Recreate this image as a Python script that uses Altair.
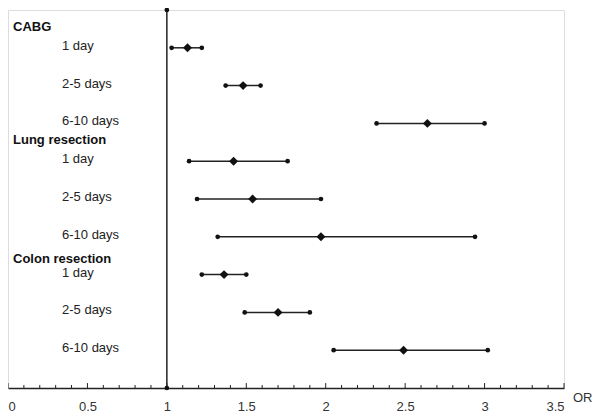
import altair as alt
import pandas as pd

groups = ["CABG", "Lung resection", "Colon resection"]
periods = ["1 day", "2-5 days", "6-10 days"]
# odds ratios and 95% CI, in row order (CABG, Lung, Colon) x (1 day, 2-5, 6-10)
or_est = [1.13, 1.48, 2.64, 1.42, 1.54, 1.97, 1.36, 1.70, 2.49]
ci_lo = [1.03, 1.37, 2.32, 1.14, 1.19, 1.32, 1.22, 1.49, 2.05]
ci_hi = [1.22, 1.59, 3.00, 1.76, 1.97, 2.94, 1.50, 1.90, 3.02]
rows = [0, 1, 2, 3, 4, 5, 6, 7, 8]
header_rows = [-0.55, 2.45, 5.58]
major_ticks = [0, 0.5, 1, 1.5, 2, 2.5, 3, 3.5]
minor_ticks = [0.1, 0.2, 0.3, 0.4, 0.6, 0.7, 0.8, 0.9, 1.1, 1.2, 1.3, 1.4,
               1.6, 1.7, 1.8, 1.9, 2.1, 2.2, 2.3, 2.4, 2.6, 2.7, 2.8, 2.9,
               3.1, 3.2, 3.3, 3.4]
ref_value = 1
ref_ends = [-1, 9]

df = pd.DataFrame({
    "group": [g for g in groups for _ in periods],
    "period": periods * len(groups),
    "est": or_est,
    "lo": ci_lo,
    "hi": ci_hi,
    "row": rows,
})
hdr = pd.DataFrame({"group": groups, "row": header_rows})
ticks_df = pd.DataFrame({
    "v": major_ticks + minor_ticks,
    "len": [0.13] * len(major_ticks) + [0.08] * len(minor_ticks),
})
ticks_df["top"] = 9 - ticks_df["len"]
ref_df = pd.DataFrame({"x": [ref_value] * 2, "row": ref_ends})

xscale = alt.Scale(domain=[0, 3.5], nice=False, zero=False)
yscale = alt.Scale(domain=[-1, 9], reverse=True, nice=False, zero=False)
xaxis = alt.Axis(values=major_ticks, title=None, ticks=False, grid=False,
                 labelExpr="datum.value", labelFontSize=13, labelPadding=12,
                 labelColor="#333", labelFont="Liberation Sans",
                 domainColor="#222", domainWidth=1.5)


def X(f, **kw):
    return alt.X(f, scale=xscale, axis=xaxis, **kw)


def Y(f):
    return alt.Y(f, scale=yscale, axis=None)


base = alt.Chart(df)

vline = alt.Chart(ref_df).mark_rule(color="#222", strokeWidth=1.5).encode(
    x=X("x:Q"), y=Y("min(row):Q"), y2="max(row):Q"
)
vdots = alt.Chart(ref_df).mark_circle(color="#111", size=22, opacity=1).encode(
    x=X("x:Q"), y=Y("row:Q")
)
ci = base.mark_rule(color="#222", strokeWidth=1.5).encode(
    x=X("lo:Q"), x2="hi:Q", y=Y("row:Q")
)
lo_dots = base.mark_circle(color="#111", size=22, opacity=1).encode(
    x=X("lo:Q"), y=Y("row:Q")
)
hi_dots = base.mark_circle(color="#111", size=22, opacity=1).encode(
    x=X("hi:Q"), y=Y("row:Q")
)
est = base.mark_point(shape="diamond", filled=True, color="#111", size=80, opacity=1).encode(
    x=X("est:Q"), y=Y("row:Q")
)
sub_txt = base.mark_text(align="left", baseline="middle", dy=-2, fontSize=13,
                         font="Liberation Sans", color="#222").encode(
    x=alt.value(54), y=Y("row:Q"), text="period:N"
)
hdr_txt = alt.Chart(hdr).mark_text(align="left", baseline="middle", fontSize=13,
                                   fontWeight="bold", font="Liberation Sans",
                                   color="#111").encode(
    x=alt.value(5), y=Y("row:Q"), text="group:N"
)
tick_rules = alt.Chart(ticks_df).mark_rule(color="#222", strokeWidth=1).encode(
    x=X("v:Q"), y=Y("top:Q"), y2="y9:Q"
).transform_calculate(y9="9")
or_lbl = alt.Chart(pd.DataFrame({"t": ["OR"], "x": [3.5], "row": [9]})).mark_text(
    align="left", baseline="middle", dx=9, dy=10, fontSize=13,
    font="Liberation Sans", color="#333"
).encode(x=X("x:Q"), y=Y("row:Q"), text="t:N")

chart = alt.layer(
    vline, ci, tick_rules, vdots, lo_dots, hi_dots, est, sub_txt, hdr_txt, or_lbl
).properties(
    width=556, height=378,
    autosize=alt.AutoSizeParams(type="none"),
    padding={"left": 0, "top": 2, "right": 30, "bottom": 28},
).configure_view(stroke=None).configure(background="white")

chart.save("out.html", embed_options={"renderer": "svg", "actions": False})
